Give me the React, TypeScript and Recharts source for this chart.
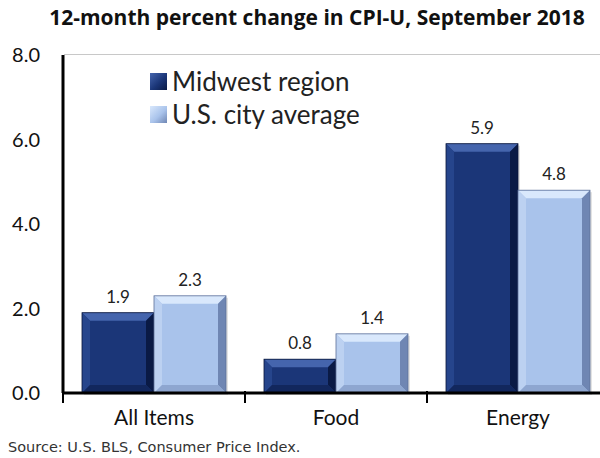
import { Bar, BarChart, LabelList, XAxis, YAxis } from 'recharts';

const categories = ['All Items', 'Food', 'Energy'];
const midwest = [1.9, 0.8, 5.9];
const usAverage = [2.3, 1.4, 4.8];
const yTicks = [0, 2, 4, 6, 8];

const chartData = categories.map((name, i) => ({
  name,
  midwest: midwest[i],
  us: usAverage[i],
}));

const FONT = 'Lato, "Open Sans", sans-serif';

interface BevelProps {
  x?: number;
  y?: number;
  width?: number;
  height?: number;
  light?: boolean;
}

const BevelBar = ({ x = 0, y = 0, width = 0, height = 0, light }: BevelProps) => {
  const b = Math.min(8, height / 3);
  const c = light
    ? { face: '#a9c3eb', top: '#d9e8fc', left: '#bcd1f1', right: '#6f86b3', bottom: '#8ea6d0', edge: '#5d7199' }
    : { face: '#1b3678', top: '#4565ad', left: '#26458c', right: '#0a1a45', bottom: '#12275d', edge: '#08163b' };
  const x2 = x + width;
  const y2 = y + height;
  return (
    <g>
      <rect x={x + 2} y={y + 2} width={width} height={height} fill="#c8c8c8" opacity={0.5} />
      <rect x={x} y={y} width={width} height={height} fill={c.face} />
      <polygon points={`${x},${y} ${x2},${y} ${x2 - b},${y + b} ${x + b},${y + b}`} fill={c.top} />
      <polygon points={`${x},${y} ${x + b},${y + b} ${x + b},${y2 - b} ${x},${y2}`} fill={c.left} />
      <polygon points={`${x2},${y} ${x2},${y2} ${x2 - b},${y2 - b} ${x2 - b},${y + b}`} fill={c.right} />
      <polygon points={`${x},${y2} ${x + b},${y2 - b} ${x2 - b},${y2 - b} ${x2},${y2}`} fill={c.bottom} />
      <rect x={x} y={y} width={width} height={height} fill="none" stroke={c.edge} strokeWidth={0.8} />
    </g>
  );
};

const CategoryTick = (props: any) => {
  const { x, y, payload, index } = props;
  const half = payload?.offset ?? 91;
  return (
    <g>
      <line x1={x - half} x2={x - half} y1={y - 10} y2={y + 2} stroke="#000" strokeWidth={2} />
      {index === categories.length - 1 && (
        <line x1={x + half} x2={x + half} y1={y - 10} y2={y + 2} stroke="#000" strokeWidth={2} />
      )}
      <text x={x} y={y + 24} textAnchor="middle" fontSize={21} fill="#111" fontFamily={FONT}>
        {payload.value}
      </text>
    </g>
  );
};

const LegendSwatch = ({ light }: { light?: boolean }) => (
  <span
    style={{
      display: 'inline-block',
      width: 17,
      height: 17,
      marginRight: 5,
      background: light
        ? 'linear-gradient(135deg, #d9e8fc, #a9c3eb 55%, #6f86b3)'
        : 'linear-gradient(135deg, #4565ad, #1b3678 55%, #0a1a45)',
    }}
  />
);

export default function App() {
  return (
    <div
      style={{
        position: 'absolute',
        left: 0,
        top: 0,
        width: 600,
        height: 458,
        overflow: 'hidden',
        background: '#fff',
        fontFamily: FONT,
      }}
    >
      <div
        style={{
          position: 'absolute',
          left: 0,
          top: 3,
          width: 634,
          textAlign: 'center',
          fontSize: 21,
          fontWeight: 700,
          color: '#111',
          fontFamily: '"Open Sans", sans-serif',
        }}
      >
        12-month percent change in CPI-U, September 2018
      </div>
      <div style={{ position: 'absolute', left: 0, top: 0 }}>
        <BarChart
          width={620}
          height={458}
          data={chartData}
          margin={{ top: 55, right: 11, bottom: 35, left: 0 }}
          barGap={0}
          barSize={72}
        >
          <YAxis
            width={63}
            domain={[0, 8]}
            ticks={yTicks}
            tickFormatter={(v: number) => v.toFixed(1)}
            tick={{ fontSize: 20, fill: '#111', fontFamily: FONT }}
            tickLine={false}
            axisLine={{ stroke: '#000', strokeWidth: 3 }}
            tickMargin={17}
          />
          <XAxis
            dataKey="name"
            height={30}
            axisLine={{ stroke: '#000', strokeWidth: 3 }}
            tickLine={false}
            tick={<CategoryTick />}
            interval={0}
          />
          <Bar dataKey="midwest" name="Midwest region" shape={<BevelBar />} isAnimationActive={false}>
            <LabelList dataKey="midwest" position="top" offset={10} fontSize={17} fill="#222" fontFamily={FONT} formatter={(v: any) => Number(v).toFixed(1)} />
          </Bar>
          <Bar dataKey="us" name="U.S. city average" shape={<BevelBar light />} isAnimationActive={false}>
            <LabelList dataKey="us" position="top" offset={10} fontSize={17} fill="#222" fontFamily={FONT} formatter={(v: any) => Number(v).toFixed(1)} />
          </Bar>
        </BarChart>
      </div>
      <div style={{ position: 'absolute', left: 64, top: 54, width: 540, height: 1, background: '#c8c8c8' }} />
      <div style={{ position: 'absolute', left: 150, top: 65, fontSize: 26, color: '#222', lineHeight: '33px' }}>
        <div style={{ display: 'flex', alignItems: 'center' }}>
          <LegendSwatch />
          Midwest region
        </div>
        <div style={{ display: 'flex', alignItems: 'center' }}>
          <LegendSwatch light />
          U.S. city average
        </div>
      </div>
      <div
        style={{
          position: 'absolute',
          left: 8,
          top: 439,
          fontSize: 14.5,
          color: '#333',
          fontFamily: '"DejaVu Sans", sans-serif',
        }}
      >
        Source: U.S. BLS, Consumer Price Index.
      </div>
    </div>
  );
}
